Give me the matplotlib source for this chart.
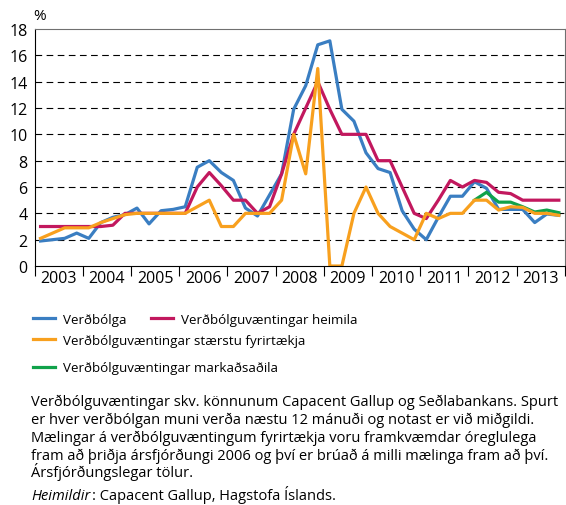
import matplotlib
matplotlib.use('Agg')
import matplotlib.pyplot as plt
import numpy as np

plt.rcParams['font.family'] = ['Open Sans', 'DejaVu Sans']

# ársfjórðungar 2003Q1 - 2013Q4
years = list(range(2003, 2014))
verdbolga = [1.9, 2.0, 2.1, 2.5, 2.1, 3.3, 3.7, 3.9, 4.4, 3.2, 4.2, 4.3,
             4.5, 7.5, 8.0, 7.1, 6.5, 4.4, 3.8, 5.4, 7.0, 11.9, 13.7, 16.8,
             17.1, 11.9, 11.0, 8.6, 7.4, 7.1, 4.2, 2.8, 2.0, 3.7, 5.3, 5.3,
             6.4, 5.9, 4.3, 4.3, 4.3, 3.3, 3.95, 3.85]
heimila = [3.0, 3.0, 3.0, 3.0, 3.0, 3.0, 3.1, 4.0, 4.0, 4.0, 4.0, 4.0,
           4.0, 6.0, 7.1, 6.1, 5.0, 5.0, 4.0, 4.5, 7.0, 10.0, 12.0, 14.0,
           11.9, 10.0, 10.0, 10.0, 8.0, 8.0, 6.0, 4.0, 3.6, 5.0, 6.5, 6.0,
           6.5, 6.35, 5.6, 5.5, 5.0, 5.0, 5.0, 5.0]
fyrirtaekja = [2.1, 2.5, 2.9, 2.9, 2.9, 3.3, 3.6, 3.9, 4.0, 4.0, 4.0, 4.0,
               4.0, 4.5, 5.0, 3.0, 3.0, 4.0, 4.0, 4.0, 5.0, 10.0, 7.0, 15.0,
               0.0, 0.0, 4.0, 6.0, 4.0, 3.0, 2.5, 2.0, 4.0, 3.6, 4.0, 4.0,
               5.0, 5.0, 4.25, 4.5, 4.45, 4.0, 4.0, 3.85]
markadsadila = [5.0, 5.6, 4.85, 4.85, 4.5, 4.1, 4.25, 4.05]  # frá 2012Q1

quarters = np.arange(len(verdbolga))
x = 2003 + (quarters + 0.5) / 4
x_mark = x[-len(markadsadila):]

c_blue = '#3a7ec2'
c_red = '#c2185e'
c_orange = '#f8a01e'
c_green = '#10a24a'

fig = plt.figure(figsize=(5.66, 5.06), dpi=100)
ax = fig.add_axes([0.061, 0.4723, 0.937, 0.4684])

l1, = ax.plot(x, verdbolga, color=c_blue, lw=2.3, label='Verðbólga')
l2, = ax.plot(x, heimila, color=c_red, lw=2.3, label='Verðbólguvæntingar heimila')
l4, = ax.plot(x_mark, markadsadila, color=c_green, lw=2.3,
              label='Verðbólguvæntingar markaðsaðila')
l3, = ax.plot(x, fyrirtaekja, color=c_orange, lw=2.3,
              label='Verðbólguvæntingar stærstu fyrirtækja')

ax.set_xlim(2003, 2014)
ax.set_ylim(0, 18)
ax.set_yticks(range(0, 19, 2))
ax.tick_params(axis='y', length=0, labelsize=11.5, pad=5)
ax.set_xticks(range(2003, 2015))
ax.set_xticklabels([])
ax.set_xticks([y + 0.5 for y in years], minor=True)
ax.set_xticklabels([str(y) for y in years], minor=True)
ax.tick_params(axis='x', which='major', length=7, direction='out', width=0.8)
ax.tick_params(axis='x', which='minor', length=0, labelsize=11.5, pad=3)

for v in range(2, 18, 2):
    ax.axhline(v, color='black', lw=0.8, dashes=(6, 4), zorder=0)

for s in ['top', 'right']:
    ax.spines[s].set_color('#707070')
ax.spines['left'].set_color('black')
ax.spines['bottom'].set_color('black')

fig.text(0.07, 0.968, '%', fontsize=11, ha='center', va='center')

# skýringar
leg_kw = dict(frameon=False, fontsize=9.6, handlelength=1.65, handletextpad=0.6,
              borderpad=0, borderaxespad=0, loc='center left')
fig.legend(handles=[l1], bbox_to_anchor=(0.058, 0.367), **leg_kw)
fig.legend(handles=[l2], bbox_to_anchor=(0.267, 0.367), **leg_kw)
fig.legend(handles=[l3], bbox_to_anchor=(0.058, 0.325), **leg_kw)
fig.legend(handles=[l4], bbox_to_anchor=(0.058, 0.271), **leg_kw)

note_lines = ['Verðbólguvæntingar skv. könnunum Capacent Gallup og Seðlabankans. Spurt',
              'er hver verðbólgan muni verða næstu 12 mánuði og notast er við miðgildi.',
              'Mælingar á verðbólguvæntingum fyrirtækja voru framkvæmdar óreglulega',
              'fram að þriðja ársfjórðungi 2006 og því er brúað á milli mælinga fram að því.',
              'Ársfjórðungslegar tölur.']
baselines = [406.5, 424.3, 442.3, 460, 477.5]
for line, b in zip(note_lines, baselines):
    fig.text(0.055, 1 - b / 506, line, fontsize=10.5, ha='left', va='baseline')
t1 = fig.text(0.055, 1 - 500 / 506, 'Heimildir', fontsize=10.5, style='italic',
              ha='left', va='baseline')
fig.add_artist(plt.Annotation(': Capacent Gallup, Hagstofa Íslands.', xy=(1, 0),
                              xycoords=t1, xytext=(1, 0), textcoords='offset points',
                              fontsize=10.5, ha='left', va='bottom'))

fig.savefig('out.png', dpi=100)
